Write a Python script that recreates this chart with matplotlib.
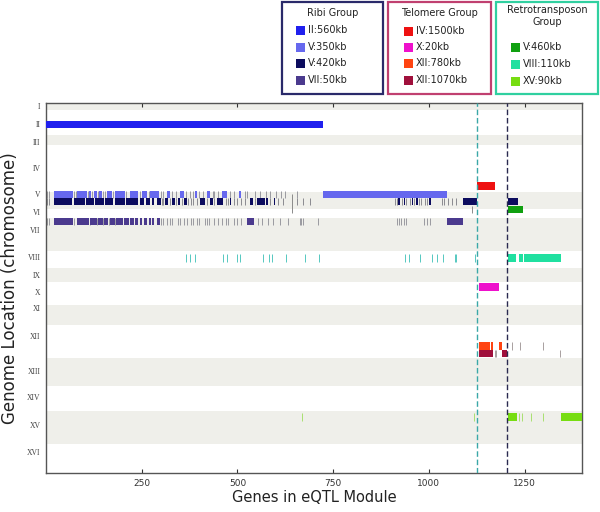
import matplotlib
matplotlib.use("Agg")
import matplotlib.pyplot as plt
from matplotlib.patches import Rectangle
import numpy as np

# ---------------- data ----------------
chrom_names = ["I", "II", "III", "IV", "V", "VI", "VII", "VIII", "IX", "X",
               "XI", "XII", "XIII", "XIV", "XV", "XVI"]
chrom_len_kb = [230, 813, 317, 1532, 577, 270, 1091, 563, 440, 746,
                667, 1078, 924, 784, 1091, 948]
label_pos_kb = [98, 685, 1272, 2120, 2970, 3556, 4143, 5024, 5611, 6166,
                6688, 7602, 8744, 9592, 10506, 11387]
x_ticks = [250, 500, 750, 1000, 1250]

# group rows (genome position, cumulative kb)
group_labels = ["II:560kb", "V:350kb", "V:420kb", "VII:50kb",
                "IV:1500kb", "X:20kb", "XII:780kb", "XII:1070kb",
                "V:460kb", "VIII:110kb", "XV:90kb"]
group_colors = ["#2020ee", "#6668ee", "#0c0c5e", "#4b3a8e",
                "#ee1111", "#ee11cc", "#ff4411", "#a0103c",
                "#10a010", "#20e0a0", "#77dd11"]
group_row_kb = [701, 2985, 3214, 3866, 2708, 6003, 7928, 8173, 3475, 5057, 10245]

seg_II_560 = [(1, 723)]
seg_V_350 = [(21, 70), (81, 107), (112, 117), (125, 133), (138, 146), (159, 172),
             (180, 206), (219, 238), (251, 264), (271, 295), (316, 324), (350, 360),
             (389, 394), (420, 428), (459, 472), (505, 508), (723, 1047)]
seg_V_420 = [(21, 40), (43, 68), (72, 100), (104, 125), (129, 150), (154, 175),
             (179, 205), (210, 225), (228, 240), (245, 256), (262, 270), (276, 282),
             (290, 300), (310, 318), (330, 336), (345, 350), (360, 368), (402, 415),
             (428, 436), (446, 462), (480, 483), (532, 540), (550, 570), (575, 580),
             (595, 598), (920, 924), (935, 937), (955, 958), (966, 970), (1001, 1005),
             (1089, 1125), (1206, 1232)]
seg_VII_50 = [(21, 70), (81, 112), (116, 132), (136, 147), (151, 162), (166, 178),
              (182, 200), (205, 215), (220, 228), (232, 240), (245, 250), (256, 262),
              (268, 272), (276, 280), (290, 296), (525, 541), (1047, 1089)]
seg_IV_1500 = [(1127, 1172)]
seg_X_20 = [(1131, 1147), (1149, 1164), (1166, 1183)]
seg_XII_780 = [(1131, 1160), (1162, 1167), (1184, 1190)]
seg_XII_1070 = [(1131, 1167), (1190, 1204)]
seg_V_460 = [(1206, 1232), (1234, 1245)]
seg_VIII_110 = [(1206, 1227), (1235, 1245), (1248, 1345)]
seg_XV_90 = [(1206, 1216), (1218, 1229), (1345, 1400)]

# single-gene ticks of the groups
tick_VIII_110 = [366, 376, 389, 462, 473, 499, 507, 567, 582, 590, 627, 676, 713,
                 937, 948, 976, 1008, 1021, 1037, 1068, 1072, 1120]
tick_XV_90 = [668, 1117, 1235, 1243, 1266, 1298]

# grey ticks (genes located elsewhere)
grey_V_350 = [3, 8, 74, 78, 110, 120, 135, 150, 155, 175, 210, 245, 268, 300, 305,
              330, 340, 365, 375, 385, 400, 410, 435, 440, 450, 480, 490, 520, 525,
              545, 560, 575, 585, 600, 615, 625, 655]
grey_V_420 = [3, 8, 302, 306, 325, 340, 355, 372, 378, 385, 395, 420, 440, 470, 475,
              490, 500, 510, 520, 545, 585, 605, 620, 655, 670, 690, 912, 918, 930,
              940, 950, 960, 975, 980, 990, 995, 1035, 1040, 1050, 1060, 1070]
grey_VII_50 = [3, 8, 74, 114, 134, 149, 164, 180, 300, 305, 315, 325, 330, 345, 350,
               360, 368, 380, 385, 395, 400, 415, 420, 425, 440, 450, 460, 470, 475,
               490, 500, 510, 555, 565, 580, 593, 611, 632, 663, 667, 671, 710, 917,
               922, 928, 935, 940, 988, 995, 1003]
grey_long = [642]
grey_VI = [1112]
grey_XII_780 = [1217, 1238, 1298]
grey_XII_1070 = [1172, 1176, 1342]

cutoff_teal = 1125
cutoff_navy = 1204

# ---------------- figure ----------------
W, H = 600, 512
fig = plt.figure(figsize=(W / 100, H / 100), dpi=100)
ax = fig.add_axes([46 / W, 1 - 473 / H, 536 / W, 370 / H])

total = sum(chrom_len_kb)
starts = np.concatenate([[0], np.cumsum(chrom_len_kb)[:-1]])
for i, (s, L) in enumerate(zip(starts, chrom_len_kb)):
    if i % 2 == 0:
        ax.axhspan(s, s + L, color="#efefea", lw=0, zorder=0)

ax.set_xlim(0, 1400)
ax.set_ylim(total, 0)

ROW_H = 240
segs = [seg_II_560, seg_V_350, seg_V_420, seg_VII_50, seg_IV_1500, seg_X_20,
        seg_XII_780, seg_XII_1070, seg_V_460, seg_VIII_110, seg_XV_90]
for seg, col, yk in zip(segs, group_colors, group_row_kb):
    ax.broken_barh([(a, b - a + 1) for a, b in seg], (yk - ROW_H / 2, ROW_H),
                   facecolors=col, lw=0, zorder=3)

def ticks(xs, yk, col, lw=0.7, h=ROW_H, z=2):
    ax.vlines(xs, yk - h / 2, yk + h / 2, colors=col, lw=lw, zorder=z)

ticks(tick_VIII_110, group_row_kb[9], "#55c8c0")
ticks(tick_XV_90, group_row_kb[10], "#a8e070")
ticks(grey_V_350, group_row_kb[1], "#9a9aa0")
ticks(grey_V_420, group_row_kb[2], "#8a8a90")
ticks(grey_VII_50, group_row_kb[3], "#9a9aa0")
ax.vlines(grey_long, group_row_kb[1], group_row_kb[8] + ROW_H / 2, colors="#8a8a8a", lw=0.7)
ticks(grey_VI, group_row_kb[8], "#8a8a8a")
ticks(grey_XII_780, group_row_kb[6], "#a8a0a0")
ticks(grey_XII_1070, group_row_kb[7], "#a8a0a0")

ax.axvline(cutoff_teal, color="#3aa8a8", lw=1.0, ls=(0, (4, 2)), zorder=4)
ax.axvline(cutoff_navy, color="#2a2a50", lw=1.0, ls=(0, (4, 2)), zorder=4)

ax.set_xticks(x_ticks)
ax.set_xticklabels([str(t) for t in x_ticks], fontsize=6.5, color="#333333")
ax.tick_params(axis="x", direction="in", top=True, length=3, width=0.8, pad=4, color="#333333")
ax.set_yticks(label_pos_kb)
ax.set_yticklabels(chrom_names, fontsize=5.5, family="Liberation Serif", color="#444444")
ax.tick_params(axis="y", length=0, pad=4)
for sp in ax.spines.values():
    sp.set_color("#555555")
    sp.set_linewidth(1.0)

ax.set_xlabel("Genes in eQTL Module", fontsize=10.5, labelpad=2, color="#222222")
ax.set_ylabel("Genome Location (chromosome)", fontsize=12, labelpad=6, color="#222222")

# ---------------- legend boxes ----------------
def fx(px):
    return px / W

def fy(py):
    return 1 - py / H

boxes = [
    (282, 383, "#2a2a6a", ["Ribi Group"], [13], 296, 308,
     group_labels[0:4], group_colors[0:4], [30, 47, 63, 80]),
    (388, 491, "#c04070", ["Telomere Group"], [13], 404, 416,
     group_labels[4:8], group_colors[4:8], [31, 47, 63, 80]),
    (496, 598, "#30d0a0", ["Retrotransposon", "Group"], [10, 22], 511, 523,
     group_labels[8:11], group_colors[8:11], [47, 64, 81]),
]
for x0, x1, ec, titles, tys, pxp, pxt, labs, cols, ys in boxes:
    fig.add_artist(Rectangle((fx(x0), fy(94)), fx(x1) - fx(x0), fy(2) - fy(94),
                             transform=fig.transFigure, fill=False, ec=ec, lw=1.6))
    for t, ty in zip(titles, tys):
        fig.text(fx((x0 + x1) / 2), fy(ty), t, ha="center", va="center",
                 fontsize=7, color="#222222")
    for lab, col, yy in zip(labs, cols, ys):
        fig.add_artist(Rectangle((fx(pxp), fy(yy + 4.5)), fx(9), 9 / H,
                                 transform=fig.transFigure, fc=col, ec="none"))
        fig.text(fx(pxt), fy(yy), lab, ha="left", va="center", fontsize=7, color="#222222")

fig.savefig("out.png", dpi=100)
